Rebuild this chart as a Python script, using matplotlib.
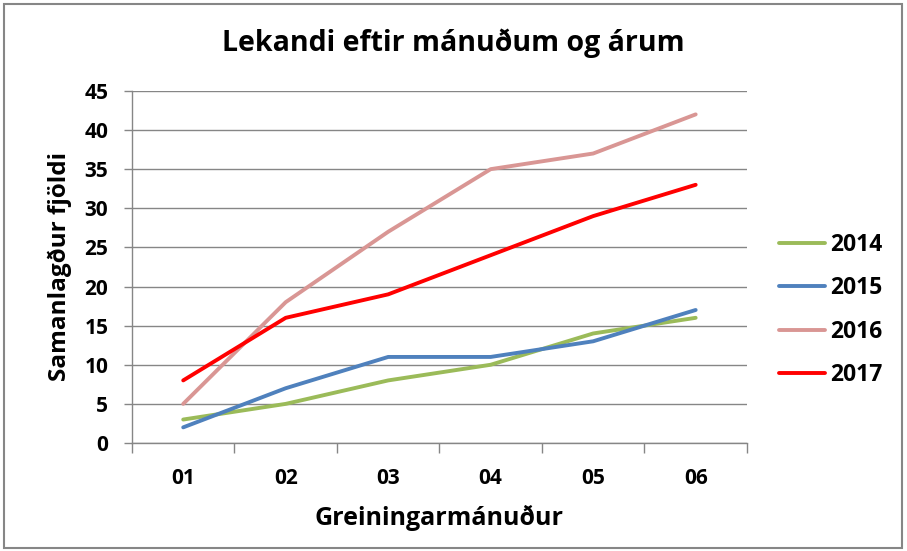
"""Lekandi eftir mánuðum og árum - Excel-style line chart."""

import matplotlib
matplotlib.use("Agg")
import matplotlib.pyplot as plt
from matplotlib.patches import Rectangle

months = ["01", "02", "03", "04", "05", "06"]
y2014 = [3, 5, 8, 10, 14, 16]
y2015 = [2, 7, 11, 11, 13, 17]
y2016 = [5, 18, 27, 35, 37, 42]
y2017 = [8, 16, 19, 24, 29, 33]
series = [("2014", y2014, "#9BBB59"), ("2015", y2015, "#4F81BD"),
          ("2016", y2016, "#D99694"), ("2017", y2017, "#FF0000")]

plt.rcParams["font.family"] = ["Open Sans", "DejaVu Sans"]

fig = plt.figure(figsize=(9.07, 5.51), dpi=100)
fig.patches.append(Rectangle((0.004, 0.005), 0.99, 0.987, transform=fig.transFigure,
                             fill=False, edgecolor="#868686", linewidth=1.5))
ax = fig.add_axes([0.1455, 0.196, 0.678, 0.639])

x = list(range(len(months)))
for name, vals, color in series:
    ax.plot(x, vals, color=color, linewidth=2.8, label=name, solid_capstyle="round")

ax.set_xlim(-0.5, len(months) - 0.5)
ax.set_ylim(0, 45)
ax.set_yticks(range(0, 46, 5))
ax.set_xticks(x)
ax.set_xticklabels(months)
ax.set_xticks([i - 0.5 for i in range(len(months) + 1)], minor=True)
ax.tick_params(axis="x", which="major", length=0, pad=18, labelsize=15)
ax.tick_params(axis="x", which="minor", length=7, color="#868686", width=1)
ax.tick_params(axis="y", length=6, color="#868686", width=1, labelsize=15, pad=11)
for lab in ax.get_xticklabels() + ax.get_yticklabels():
    lab.set_fontweight("bold")

ax.grid(axis="y", color="#868686", linewidth=1)
ax.set_axisbelow(True)
for side in ("top", "right"):
    ax.spines[side].set_visible(False)
for side in ("left", "bottom"):
    ax.spines[side].set_color("#868686")
    ax.spines[side].set_linewidth(1)

ax.set_xlabel("Greiningarmánuður", fontsize=18, fontweight="bold")
ax.set_ylabel("Samanlagður fjöldi", fontsize=17.5, fontweight="bold")
ax.xaxis.set_label_coords(0.5, -0.213)
ax.yaxis.set_label_coords(-0.117, 0.5)
ax.xaxis.label.set_va("center")
ax.yaxis.label.set_va("center")
fig.text(0.5, 0.921, "Lekandi eftir mánuðum og árum", ha="center", va="center",
         fontsize=20.5, fontweight="bold")

fig.legend(*ax.get_legend_handles_labels(), loc="center left",
           bbox_to_anchor=(779 / 907, 1 - 310 / 551), frameon=False,
           prop={"weight": "bold", "size": 16.5}, handlelength=2.0,
           labelspacing=0.85, handletextpad=0.25, borderpad=0, borderaxespad=0)

fig.savefig("out.png", dpi=100)
